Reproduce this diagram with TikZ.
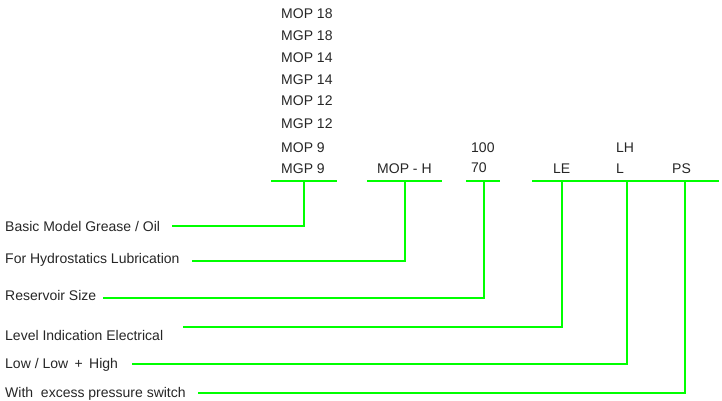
\documentclass[tikz,border=0pt]{standalone}
\usepackage{fontspec}
\setmainfont{Liberation Sans}
\definecolor{leadgreen}{RGB}{0,255,0}
\begin{document}
\begin{tikzpicture}[x=1pt, y=-1pt,
    code/.style = {anchor=base west, inner sep=0pt, text=black!85, font=\fontsize{14}{16}\selectfont},
    desc/.style = {code},
    lead/.style = {draw=leadgreen, line width=1.8pt}]
            \useasboundingbox (0,0) rectangle (722,400);

            % model names
            \node[code] (mop18) at (281,18.5) {MOP 18};
            \node[code] (mgp18) at (281,40.5) {MGP 18};
            \node[code] (mop14) at (281,62.5) {MOP 14};
            \node[code] (mgp14) at (281,84) {MGP 14};
            \node[code] (mop12) at (281,105.5) {MOP 12};
            \node[code] (mgp12) at (281,128) {MGP 12};
            \node[code] (mop9) at (281,152.5) {MOP 9};
            \node[code] (mgp9) at (281,173) {MGP 9};
            \node[code] (moph) at (377,173) {MOP - H};
            \node[code] (size100) at (471,152) {100};
            \node[code] (size70) at (471,172.5) {70};
            \node[code] (le) at (553,173) {LE};
            \node[code] (lh) at (616,152) {LH};
            \node[code] (l) at (616,173) {L};
            \node[code] (ps) at (672,173) {PS};

            % bars
            \coordinate (bar1w) at (271,181);
            \coordinate (bar1e) at (337,181);
            \coordinate (bar2w) at (367,181);
            \coordinate (bar2e) at (442,181);
            \coordinate (bar3w) at (466,181);
            \coordinate (bar3e) at (500,181);
            \coordinate (bar4w) at (532,181);
            \coordinate (bar4e) at (719,181);
            \draw[lead] (bar1w) -- (bar1e);
            \draw[lead] (bar2w) -- (bar2e);
            \draw[lead] (bar3w) -- (bar3e);
            \draw[lead] (bar4w) -- (bar4e);

            % descriptions
            \node[desc] (basic) at (5,231.5) {Basic Model Grease / Oil};
            \node[desc] (hydro) at (5,263.5) {For Hydrostatics Lubrication};
            \node[desc] (reservoir) at (5,300) {Reservoir Size};
            \node[desc] (level) at (5,340) {Level Indication Electrical};
            \node[desc] (lowhigh) at (5,368) {Low / Low\hspace{2.5pt} + \hspace{2.5pt}High};
            \node[desc] (switch) at (5,397) {With\ \ excess pressure switch};

            % leaders
            \coordinate (tick1) at (304,181);
            \coordinate (tick2) at (405,181);
            \coordinate (tick3) at (484,181);
            \coordinate (tick4) at (562,181);
            \coordinate (tick5) at (627,181);
            \coordinate (tick6) at (685,181);
            \coordinate (end1) at (172,226);
            \coordinate (end2) at (192,261);
            \coordinate (end3) at (103,298);
            \coordinate (end4) at (183,327);
            \coordinate (end5) at (132,364);
            \coordinate (end6) at (198,393);
            \draw[lead] (tick1) |- (end1);
            \draw[lead] (tick2) |- (end2);
            \draw[lead] (tick3) |- (end3);
            \draw[lead] (tick4) |- (end4);
            \draw[lead] (tick5) |- (end5);
            \draw[lead] (tick6) |- (end6);
\end{tikzpicture}
\end{document}
